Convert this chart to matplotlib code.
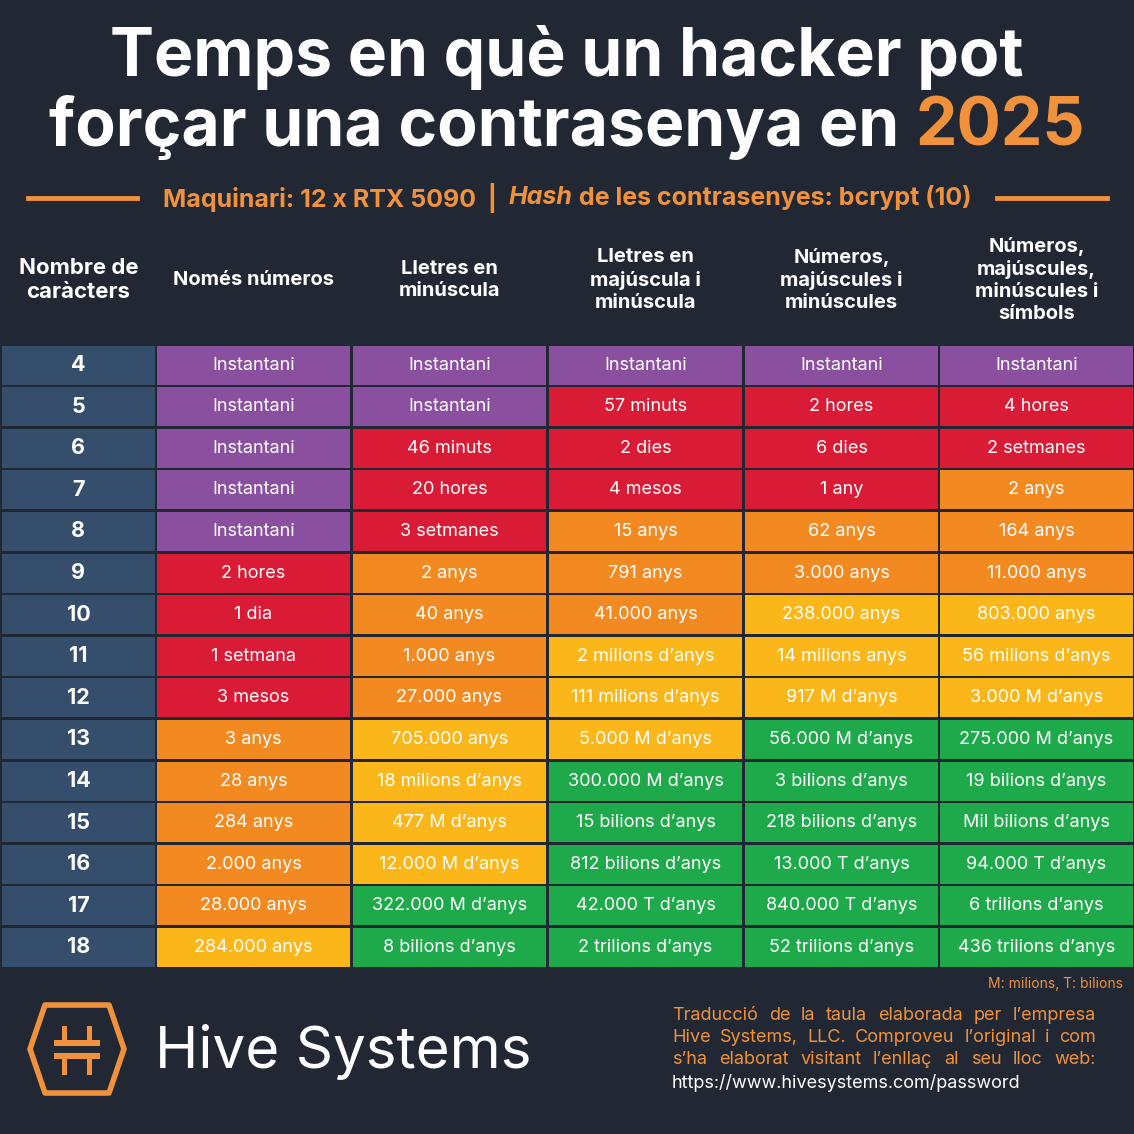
import matplotlib
matplotlib.use("Agg")
import numpy as np
import matplotlib.pyplot as plt
from matplotlib.patches import Rectangle, Polygon

rows = ["4","5","6","7","8","9","10","11","12","13","14","15","16","17","18"]
columns = ["Només números", "Lletres en\nminúscula", "Lletres en\nmajúscula i\nminúscula",
           "Números,\nmajúscules i\nminúscules", "Números,\nmajúscules,\nminúscules i\nsímbols"]
col_numbers = ["Instantani","Instantani","Instantani","Instantani","Instantani","2 hores","1 dia",
               "1 setmana","3 mesos","3 anys","28 anys","284 anys","2.000 anys","28.000 anys","284.000 anys"]
col_lower = ["Instantani","Instantani","46 minuts","20 hores","3 setmanes","2 anys","40 anys","1.000 anys",
             "27.000 anys","705.000 anys","18 milions d’anys","477 M d’anys","12.000 M d’anys",
             "322.000 M d’anys","8 bilions d’anys"]
col_upper_lower = ["Instantani","57 minuts","2 dies","4 mesos","15 anys","791 anys","41.000 anys",
                   "2 milions d’anys","111 milions d’anys","5.000 M d’anys","300.000 M d’anys",
                   "15 bilions d’anys","812 bilions d’anys","42.000 T d’anys","2 trilions d’anys"]
col_num_upper_lower = ["Instantani","2 hores","6 dies","1 any","62 anys","3.000 anys","238.000 anys",
                       "14 milions anys","917 M d’anys","56.000 M d’anys","3 bilions d’anys",
                       "218 bilions d’anys","13.000 T d’anys","840.000 T d’anys","52 trilions d’anys"]
col_all = ["Instantani","4 hores","2 setmanes","2 anys","164 anys","11.000 anys","803.000 anys",
           "56 milions d’anys","3.000 M d’anys","275.000 M d’anys","19 bilions d’anys",
           "Mil bilions d’anys","94.000 T d’anys","6 trilions d’anys","436 trilions d’anys"]
# risk level per cell: P purple, R red, O orange, Y yellow, G green
lvl_numbers = list("PPPPPRRRROOOOOY")
lvl_lower = list("PPRRROOOOYYYYGG")
lvl_upper_lower = list("PRRROOOYYYGGGGG")
lvl_num_upper_lower = list("PRRROOYYYGGGGGG")
lvl_all = list("PRROOOYYYGGGGGG")

values = [col_numbers, col_lower, col_upper_lower, col_num_upper_lower, col_all]
levels = [lvl_numbers, lvl_lower, lvl_upper_lower, lvl_num_upper_lower, lvl_all]

BG = "#212833"
ORANGE = "#f0913c"
level_colors = {"P": "#8a509f", "R": "#d91b35", "O": "#f38a21", "Y": "#fbb719", "G": "#1ea94a"}
ROWHEAD = "#344e6c"

W = H = 1134
fig = plt.figure(figsize=(11.34, 11.34), dpi=100, facecolor=BG)
ax = fig.add_axes([0, 0, 1, 1])
ax.set_xlim(0, W); ax.set_ylim(H, 0); ax.axis("off")
ax.set_facecolor(BG)

FB = "Inter"
TS = 47.5
ax.text(567, 57, "Temps en què un hacker pot", ha="center", va="center", color="white",
        fontsize=TS, fontweight="bold", family=FB)
t1 = ax.text(0, 128, "forçar una contrasenya en ", ha="left", va="center", color="white",
             fontsize=TS, fontweight="bold", family=FB)
t2 = ax.text(0, 128, "2025", ha="left", va="center", color=ORANGE,
             fontsize=TS, fontweight="bold", family=FB)
fig.canvas.draw()
r = fig.canvas.get_renderer()
w1 = t1.get_window_extent(r).width; w2 = t2.get_window_extent(r).width
x0 = 567 - (w1 + w2) / 2
t1.set_x(x0); t2.set_x(x0 + w1)

# subtitle
ax.plot([28, 137], [198, 198], color=ORANGE, lw=3.5)
ax.plot([997, 1107], [198, 198], color=ORANGE, lw=3.5)
parts = [("Maquinari: 12 x RTX 5090  |  ", "normal"), ("Hash", "italic"),
         (" de les contrasenyes: bcrypt (10)", "normal")]
objs = [ax.text(0, 198, s, ha="left", va="center", color=ORANGE, fontsize=18,
                fontweight="bold", style=st, family=FB) for s, st in parts]
fig.canvas.draw()
ws = [o.get_window_extent(r).width for o in objs]
x = 567 - sum(ws) / 2
for o, w in zip(objs, ws):
    o.set_x(x); x += w

# table geometry
col_x = [2, 157, 353, 549, 745, 940]
col_w = [153, 193, 193, 193, 193, 193]
top = 345.5
rh = 41.6
gap = 2.5

ax.text(col_x[0] + col_w[0] / 2, 280, "Nombre de\ncaràcters", ha="center", va="center",
        color="white", fontsize=16, fontweight="bold", family=FB, linespacing=1.3)
for j, c in enumerate(columns):
    ax.text(col_x[j + 1] + col_w[j + 1] / 2, 280, c, ha="center", va="center",
            color="white", fontsize=14.5, fontweight="bold", family=FB, linespacing=1.3)

for i, rlab in enumerate(rows):
    y = top + i * rh
    ax.add_patch(Rectangle((col_x[0], y), col_w[0], rh - gap, color=ROWHEAD, lw=0))
    ax.text(col_x[0] + col_w[0] / 2, y + (rh - gap) / 2, rlab, ha="center", va="center",
            color="white", fontsize=15.5, fontweight="bold", family=FB)
    for j in range(5):
        ax.add_patch(Rectangle((col_x[j + 1], y), col_w[j + 1], rh - gap,
                               color=level_colors[levels[j][i]], lw=0))
        ax.text(col_x[j + 1] + col_w[j + 1] / 2, y + (rh - gap) / 2, values[j][i],
                ha="center", va="center", color="white", fontsize=13, family=FB)

ax.text(1123, 984, "M: milions, T: bilions", ha="right", va="center", color=ORANGE,
        fontsize=10, family=FB)

# logo: elongated hexagon, points left/right
cx, cy, hw, hh, inset = 77, 1049, 47, 44, 15
hexv = [(cx - hw, cy), (cx - hw + inset, cy - hh), (cx + hw - inset, cy - hh),
        (cx + hw, cy), (cx + hw - inset, cy + hh), (cx - hw + inset, cy + hh)]
ax.add_patch(Polygon(hexv, closed=True, facecolor="none", edgecolor=ORANGE, lw=4,
                     joinstyle="round"))
ax.add_patch(Rectangle((54, 1040), 46, 6, color=ORANGE, lw=0))
ax.add_patch(Rectangle((54, 1053), 46, 6, color=ORANGE, lw=0))
for xx in (62, 87):
    ax.add_patch(Rectangle((xx, 1026), 5, 14, color=ORANGE, lw=0))
    ax.add_patch(Rectangle((xx, 1059), 5, 16, color=ORANGE, lw=0))
ax.text(155, 1052, "Hive Systems", ha="left", va="center", color="white", fontsize=42, family=FB)

foot = ["Traducció de la taula elaborada per l’empresa",
        "Hive Systems, LLC. Comproveu l’original i com",
        "s’ha elaborat visitant l’enllaç al seu lloc web:"]
for k, s in enumerate(foot):
    words = s.split(" ")
    tobjs = [ax.text(0, 1015 + k * 22.5, w_, ha="left", va="center", color=ORANGE,
                     fontsize=13, family=FB) for w_ in words]
    fig.canvas.draw()
    wl = [t.get_window_extent(r).width for t in tobjs]
    sp = (1096 - 672 - sum(wl)) / (len(words) - 1)
    xx = 672
    for t, w_ in zip(tobjs, wl):
        t.set_x(xx); xx += w_ + sp
ax.text(672, 1015 + 3 * 22.5, "https://www.hivesystems.com/password", ha="left", va="center",
        color="white", fontsize=13, family=FB)

fig.savefig("out.png", dpi=100, facecolor=BG)
